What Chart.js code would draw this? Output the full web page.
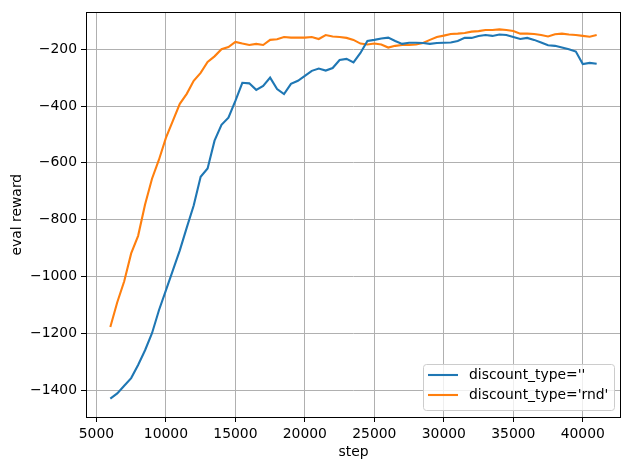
<!DOCTYPE html>
<html>
<head>
<meta charset="utf-8">
<script src="https://cdn.jsdelivr.net/npm/chart.js@4.4.0/dist/chart.umd.min.js"></script>
<style>
  html, body { margin: 0; padding: 0; background: #fff; }
  canvas { display: block; }
</style>
</head>
<body>
<canvas id="myChart" width="630" height="470"></canvas>
<script>
// eval reward per training step
const steps = [
  6000, 6500, 7000, 7500, 8000, 8500, 9000, 9500, 10000, 10500,
  11000, 11500, 12000, 12500, 13000, 13500, 14000, 14500, 15000, 15500,
  16000, 16500, 17000, 17500, 18000, 18500, 19000, 19500, 20000, 20500,
  21000, 21500, 22000, 22500, 23000, 23500, 24000, 24500, 25000, 25500,
  26000, 26500, 27000, 27500, 28000, 28500, 29000, 29500, 30000, 30500,
  31000, 31500, 32000, 32500, 33000, 33500, 34000, 34500, 35000, 35500,
  36000, 36500, 37000, 37500, 38000, 38500, 39000, 39500, 40000, 40500,
  41000
];
const plainReward = [
  -1430, -1412, -1385, -1358, -1312, -1260, -1200, -1119, -1049, -979,
  -908, -828, -750, -649, -620, -522, -466, -441, -382, -318,
  -320, -343, -329, -300, -340, -358, -322, -311, -294, -276,
  -268, -275, -266, -238, -234, -246, -213, -171, -167, -162,
  -159, -171, -181, -177, -177, -178, -181, -178, -177, -176,
  -171, -160, -160, -153, -150, -153, -148, -150, -157, -164,
  -160, -167, -176, -186, -188, -194, -200, -208, -252, -248,
  -251
];
const rndReward = [
  -1178, -1091, -1017, -919, -857, -747, -656, -589, -512, -452,
  -392, -357, -311, -283, -245, -225, -200, -192, -174, -180,
  -185, -181, -185, -167, -165, -157, -159, -159, -159, -157,
  -164, -150, -155, -157, -160, -167, -180, -183, -180, -183,
  -194, -188, -185, -185, -183, -178, -167, -157, -152, -146,
  -145, -143, -138, -136, -132, -132, -130, -132, -136, -145,
  -145, -146, -150, -155, -147, -145, -148, -150, -153, -156,
  -150
];
const seriesLabels = ["discount_type=''", "discount_type='rnd'"];
const seriesColors = ['#1f77b4', '#ff7f0e'];
const xTicks = [5000, 10000, 15000, 20000, 25000, 30000, 35000, 40000];
const yTicks = [-1400, -1200, -1000, -800, -600, -400, -200];

const FONT = 'DejaVu Sans';
const FSIZE = 13.9;

function toPoints(vals) {
  return steps.map((s, i) => ({ x: s, y: vals[i] }));
}

function mplNumber(v) {
  return String(v).replace('-', '\u2212');
}

// matplotlib style frame around the axes
const frameBox = {
  id: 'frameBox',
  afterDatasetsDraw(chart) {
    const { ctx, chartArea: { left, top, right, bottom } } = chart;
    ctx.save();
    ctx.strokeStyle = '#000';
    ctx.lineWidth = 1;
    ctx.strokeRect(Math.round(left) + 0.5, Math.round(top) + 0.5,
      Math.round(right - left) - 1, Math.round(bottom - top));
    ctx.restore();
  }
};

// legend box in the lower right of the axes
const innerLegend = {
  id: 'innerLegend',
  afterDraw(chart) {
    const { ctx, chartArea: { right, bottom } } = chart;
    const w = 191, h = 46;
    const x = right - 7 - w;
    const y = bottom - 7 - h;
    ctx.save();
    ctx.beginPath();
    ctx.roundRect(Math.round(x) + 0.5, Math.round(y) + 0.5, w, h, 3);
    ctx.fillStyle = 'rgba(255,255,255,0.8)';
    ctx.fill();
    ctx.strokeStyle = '#cccccc';
    ctx.lineWidth = 1;
    ctx.stroke();
    ctx.font = FSIZE + 'px "' + FONT + '"';
    ctx.textBaseline = 'middle';
    ctx.textAlign = 'left';
    chart.data.datasets.forEach((ds, i) => {
      const ly = y + 11 + i * 20;
      ctx.strokeStyle = ds.borderColor;
      ctx.lineWidth = 2.1;
      ctx.beginPath();
      ctx.moveTo(x + 5, ly);
      ctx.lineTo(x + 35, ly);
      ctx.stroke();
      ctx.fillStyle = '#000';
      ctx.fillText(ds.label, x + 46, ly);
    });
    ctx.restore();
  }
};

const ctx1 = document.getElementById('myChart');

const myChart = new Chart(ctx1, {
  type: 'line',
  data: {
    datasets: [
      {
        label: seriesLabels[0],
        data: toPoints(plainReward),
        borderColor: seriesColors[0],
        backgroundColor: seriesColors[0],
        borderWidth: 2.1,
        pointRadius: 0,
        tension: 0,
        fill: false,
      },
      {
        label: seriesLabels[1],
        data: toPoints(rndReward),
        borderColor: seriesColors[1],
        backgroundColor: seriesColors[1],
        borderWidth: 2.1,
        pointRadius: 0,
        tension: 0,
        fill: false,
      }
    ]
  },
  options: {
    responsive: false,
    animation: false,
    devicePixelRatio: 1,
    layout: {
      padding: { left: 0, right: 9, top: 10, bottom: 0 }
    },
    plugins: {
      legend: { display: false },
      tooltip: { enabled: false },
    },
    scales: {
      x: {
        type: 'linear',
        min: 4250,
        max: 42750,
        border: { display: false },
        grid: {
          color: '#b0b0b0',
          lineWidth: 1,
          drawTicks: true,
          tickLength: 5,
          tickColor: '#000',
        },
        ticks: {
          maxRotation: 0,
          padding: 4,
          color: '#000',
          font: { family: FONT, size: FSIZE },
          callback: (v) => mplNumber(v),
        },
        afterBuildTicks(scale) {
          scale.ticks = xTicks.map(v => ({ value: v }));
        },
        title: {
          display: true,
          text: 'step',
          color: '#000',
          font: { family: FONT, size: FSIZE },
          padding: { top: 0, bottom: 9.6 },
        },
        afterFit(scale) {
          scale.height = 53;
        },
      },
      y: {
        type: 'linear',
        min: -1495,
        max: -70,
        border: { display: false },
        grid: {
          color: '#b0b0b0',
          lineWidth: 1,
          drawTicks: true,
          tickLength: 5,
          tickColor: '#000',
        },
        ticks: {
          padding: 4,
          color: '#000',
          font: { family: FONT, size: FSIZE },
          callback: (v) => mplNumber(v),
        },
        afterBuildTicks(scale) {
          scale.ticks = yTicks.map(v => ({ value: v }));
        },
        title: {
          display: true,
          text: 'eval reward',
          color: '#000',
          font: { family: FONT, size: FSIZE },
          padding: { top: 8.6, bottom: 0 },
        },
        afterFit(scale) {
          scale.width = 86;
        },
      },
    },
  },
  plugins: [frameBox, innerLegend]
});
</script>
</body>
</html>
